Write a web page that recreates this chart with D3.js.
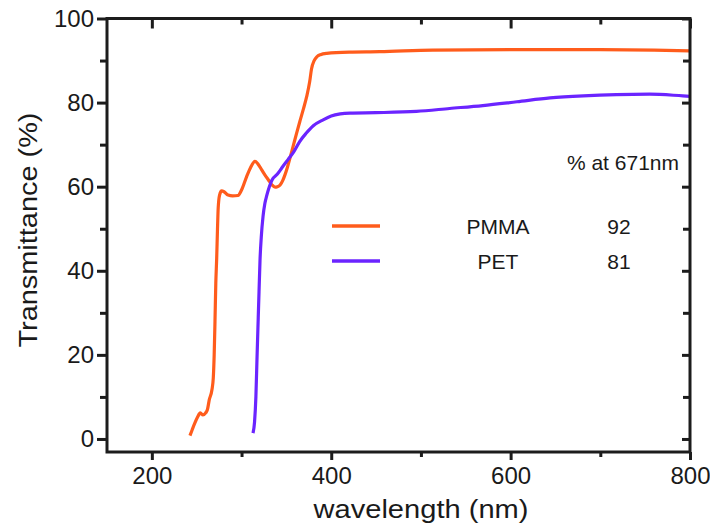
<!DOCTYPE html>
<html>
<head>
<meta charset="utf-8">
<script src="https://cdn.jsdelivr.net/npm/d3@7"></script>
<style>
  html, body { margin: 0; padding: 0; background: #fff; }
  svg { display: block; font-family: "Liberation Sans", Arial, Helvetica, sans-serif; }
</style>
</head>
<body>
<svg id="chart" width="710" height="527"></svg>
<script>
// ---- data ----
const seriesNames = ["PMMA", "PET"];
const seriesAt671 = [92, 81];
const seriesColors = ["#ff5c1c", "#6b24ff"];

const pmmaWavelength = [242.5,245,248,251,254,257,260,262,264,267,268.5,269.5,270.4,271.3,272.3,273.2,274,275.5,277.8,280.5,285,290,296,300,305.7,310,315,318,322.5,326,330,334,337.3,340,343,346,348.4,351,354,358,361.5,365,369,372.6,376,378,381,384,388,395,420,454,513,600,700,760,800];
const pmmaT =          [0.8,2.2,3.8,5.2,6.2,5.7,6.2,7,9.3,11.7,14.5,20,28,37,43,50,55,58,59,58.8,58,57.8,57.9,59.2,62.4,64.5,66,65.5,64,62.8,61.6,60.4,59.9,60,60.4,61.5,62.8,64.5,66.8,70,72.8,75.5,78.5,81.4,85,88,90,90.9,91.4,91.7,92,92.1,92.5,92.6,92.6,92.5,92.3];

const petWavelength = [312.8,314.5,316,317.2,318.5,319.5,320.6,322,324,326,328,331,334,340,346,352,358,365,372,380,391,400,410,421,450,495,532,569,607,644,681,718,755,792,800];
const petT =          [1.4,4,10,18.8,28,35,42.5,48,53,56,57.8,60,61.6,63,64.8,66.5,68.2,70.8,72.7,74.5,75.9,76.8,77.3,77.5,77.6,77.9,78.6,79.3,80.2,81.1,81.6,81.9,82,81.6,81.5];

const xMajorTicks = [200, 400, 600, 800];
const xMinorTicks = [300, 500, 700];
const yMajorTicks = [0, 20, 40, 60, 80, 100];
const yMinorTicks = [10, 30, 50, 70, 90];

const xLabel = "wavelength (nm)";
const yLabel = "Transmittance (%)";
const legendTitle = "% at 671nm";

// ---- layout ----
const svg = d3.select("#chart");
const L = 107, R = 690, T = 18.5, B = 452;
const x = d3.scaleLinear().domain([150, 800]).range([L, R]);
const y = d3.scaleLinear().domain([-3.1, 100]).range([B, T]);
const axisColor = "#1c1c1c";
const textColor = "#1a1a1a";

function styleAxis(g) {
  g.select(".domain").remove();
  g.selectAll(".tick line").attr("stroke", axisColor).attr("stroke-width", 3);
  g.selectAll(".tick text").attr("fill", textColor).attr("font-size", 24)
   .attr("font-family", "'Liberation Sans', Arial, sans-serif");
}

// bottom axis
svg.append("g").attr("transform", `translate(0,${B})`)
  .call(d3.axisBottom(x).tickValues(xMajorTicks).tickSize(8).tickPadding(7).tickFormat(d3.format("d")))
  .call(styleAxis);
svg.append("g").attr("transform", `translate(0,${B})`)
  .call(d3.axisBottom(x).tickValues(xMinorTicks).tickSize(5).tickFormat(""))
  .call(styleAxis);
// top axis (inward)
svg.append("g").attr("transform", `translate(0,${T})`)
  .call(d3.axisBottom(x).tickValues(xMajorTicks).tickSize(10).tickFormat(""))
  .call(styleAxis);
svg.append("g").attr("transform", `translate(0,${T})`)
  .call(d3.axisBottom(x).tickValues(xMinorTicks).tickSize(6).tickFormat(""))
  .call(styleAxis);
// left axis
svg.append("g").attr("transform", `translate(${L},0)`)
  .call(d3.axisLeft(y).tickValues(yMajorTicks).tickSize(10).tickPadding(3).tickFormat(d3.format("d")))
  .call(styleAxis);
svg.append("g").attr("transform", `translate(${L},0)`)
  .call(d3.axisLeft(y).tickValues(yMinorTicks).tickSize(7).tickFormat(""))
  .call(styleAxis);
// right axis (inward)
svg.append("g").attr("transform", `translate(${R},0)`)
  .call(d3.axisLeft(y).tickValues(yMajorTicks).tickSize(8).tickFormat(""))
  .call(styleAxis);
svg.append("g").attr("transform", `translate(${R},0)`)
  .call(d3.axisLeft(y).tickValues(yMinorTicks).tickSize(7).tickFormat(""))
  .call(styleAxis);

// curves
const line = d3.line().x(d => x(d[0])).y(d => y(d[1])).curve(d3.curveMonotoneX);
const pmma = pmmaWavelength.map((w, i) => [w, pmmaT[i]]);
const pet = petWavelength.map((w, i) => [w, petT[i]]);
svg.append("clipPath").attr("id", "clip")
  .append("rect").attr("x", L).attr("y", T).attr("width", R - L).attr("height", B - T);
const plot = svg.append("g").attr("clip-path", "url(#clip)");
plot.append("path").datum(pmma).attr("d", line).attr("fill", "none")
  .attr("stroke", seriesColors[0]).attr("stroke-width", 3.2).attr("stroke-linejoin", "round");
plot.append("path").datum(pet).attr("d", line).attr("fill", "none")
  .attr("stroke", seriesColors[1]).attr("stroke-width", 3.2).attr("stroke-linejoin", "round");

// frame
svg.append("rect").attr("x", L).attr("y", T).attr("width", R - L).attr("height", B - T)
  .attr("fill", "none").attr("stroke", axisColor).attr("stroke-width", 3);

// axis titles
svg.append("text").attr("x", 421).attr("y", 518).attr("text-anchor", "middle")
  .attr("font-size", 25).attr("fill", textColor)
  .attr("textLength", 215).attr("lengthAdjust", "spacingAndGlyphs")
  .text(xLabel);
svg.append("text").attr("transform", "translate(37,230) rotate(-90)").attr("text-anchor", "middle")
  .attr("font-size", 26).attr("fill", textColor)
  .attr("textLength", 235).attr("lengthAdjust", "spacingAndGlyphs")
  .text(yLabel);

// legend
svg.append("text").attr("x", 679).attr("y", 170).attr("text-anchor", "end")
  .attr("font-size", 21).attr("fill", textColor).text(legendTitle);
const legRowY = [226, 261];
seriesNames.forEach((name, i) => {
  svg.append("line").attr("x1", 332).attr("x2", 380).attr("y1", legRowY[i]).attr("y2", legRowY[i])
    .attr("stroke", seriesColors[i]).attr("stroke-width", 3.5);
  svg.append("text").attr("x", 498).attr("y", legRowY[i] + 8).attr("text-anchor", "middle")
    .attr("font-size", 21).attr("fill", textColor).text(name);
  svg.append("text").attr("x", 619).attr("y", legRowY[i] + 8).attr("text-anchor", "middle")
    .attr("font-size", 21).attr("fill", textColor).text(seriesAt671[i]);
});
</script>
</body>
</html>
